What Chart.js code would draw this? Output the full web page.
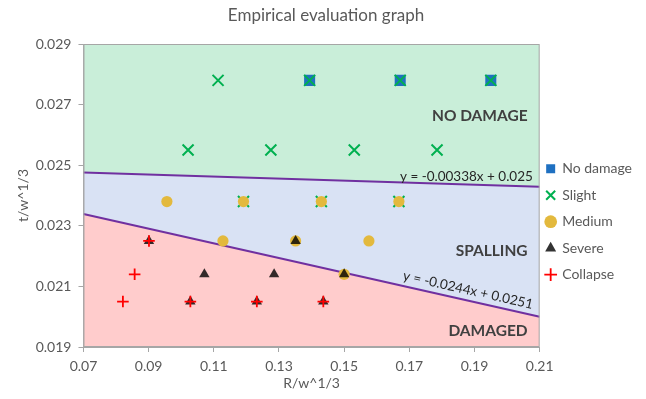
<!DOCTYPE html>
<html>
<head>
<meta charset="utf-8">
<script src="https://cdn.jsdelivr.net/npm/chart.js@4"></script>
<style>
  html, body { margin: 0; padding: 0; background: #fff; }
  #wrap { width: 646px; height: 399px; }
</style>
</head>
<body>
<div id="wrap"><canvas id="chart"></canvas></div>
<script>
// axis ticks
const xTicks = [0.07, 0.09, 0.11, 0.13, 0.15, 0.17, 0.19, 0.21];
const xTickLabels = ['0.07', '0.09', '0.11', '0.13', '0.15', '0.17', '0.19', '0.21'];
const yTicks = [0.019, 0.021, 0.023, 0.025, 0.027, 0.029];
const yTickLabels = ['0.019', '0.021', '0.023', '0.025', '0.027', '0.029'];

// test results [R/w^1/3, t/w^1/3]
const noDamage = [[0.1394, 0.0278], [0.1672, 0.0278], [0.1950, 0.0278]];
const slight = [[0.1113, 0.0278], [0.1394, 0.0278], [0.1672, 0.0278], [0.1950, 0.0278],
  [0.1021, 0.0255], [0.1275, 0.0255], [0.1531, 0.0255], [0.1785, 0.0255],
  [0.1191, 0.0238], [0.1430, 0.0238], [0.1668, 0.0238]];
const medium = [[0.0956, 0.0238], [0.1191, 0.0238], [0.1430, 0.0238], [0.1668, 0.0238],
  [0.1128, 0.0225], [0.1351, 0.0225], [0.1576, 0.0225], [0.1500, 0.0214]];
const severe = [[0.0901, 0.0225], [0.1351, 0.0225], [0.1071, 0.0214], [0.1285, 0.0214],
  [0.1500, 0.0214], [0.1028, 0.0205], [0.1232, 0.0205], [0.1436, 0.0205]];
const collapse = [[0.0821, 0.0205], [0.0857, 0.0214], [0.0901, 0.0225], [0.1028, 0.0205],
  [0.1232, 0.0205], [0.1436, 0.0205]];

// boundary lines (ends at x = 0.07 and x = 0.21)
const upperLine = [[0.07, 0.02476], [0.21, 0.02429]];
const lowerLine = [[0.07, 0.02339], [0.21, 0.02000]];

const toXY = arr => arr.map(p => ({x: p[0], y: p[1]}));
const FONT = 'Lato, "Open Sans", sans-serif';
const GREY = '#595959';

// text drawn on the plot, placed in data units
const notes = [
  {text: 'NO DAMAGE', x: 0.2063, y: 0.02662, bold: true, size: 15.5, align: 'right'},
  {text: 'SPALLING', x: 0.2063, y: 0.02218, bold: true, size: 15.5, align: 'right'},
  {text: 'DAMAGED', x: 0.2063, y: 0.01953, bold: true, size: 15.5, align: 'right'},
  {text: 'y = -0.00338x + 0.025', x: 0.2079, y: 0.02463, size: 13.5, align: 'right'},
  {text: 'y = -0.0244x + 0.0251', x: 0.1880, y: 0.02088, size: 13.5, align: 'center', along: lowerLine}
];

const notesPlugin = {
  id: 'notes',
  afterLayout(chart) {
    // legend sits a little closer to the plot than Chart.js places it
    chart.legend.left -= 6;
    chart.legend.right -= 6;
  },
  afterDatasetsDraw(chart) {
    const {ctx, chartArea: a, scales: {x, y}} = chart;
    ctx.save();
    ctx.strokeStyle = '#A6A6A6';
    ctx.lineWidth = 1;
    ctx.strokeRect(a.left + 0.5, a.top + 0.5, a.right - a.left - 1, a.bottom - a.top - 1);
    notes.forEach(n => {
      ctx.save();
      ctx.font = (n.bold ? 'bold ' : '') + n.size + 'px ' + FONT;
      ctx.fillStyle = n.bold ? '#404040' : '#262626';
      ctx.textAlign = n.align;
      ctx.textBaseline = 'middle';
      ctx.translate(x.getPixelForValue(n.x), y.getPixelForValue(n.y));
      if (n.along) {
        const dx = x.getPixelForValue(n.along[1][0]) - x.getPixelForValue(n.along[0][0]);
        const dy = y.getPixelForValue(n.along[1][1]) - y.getPixelForValue(n.along[0][1]);
        ctx.rotate(Math.atan2(dy, dx));
      }
      ctx.fillText(n.text, 0, 0);
      ctx.restore();
    });
    ctx.restore();
  }
};

const tickFont = {family: FONT, size: 14};
const axisTitleFont = {family: FONT, size: 14, lineHeight: 1};

new Chart(document.getElementById('chart'), {
  type: 'scatter',
  data: {
    datasets: [
      {label: 'No damage', data: toXY(noDamage), pointStyle: 'rect', pointRadius: 7.8,
        backgroundColor: '#1F70C1', borderColor: '#1F70C1', borderWidth: 0, order: 5},
      {label: 'Slight', data: toXY(slight), pointStyle: 'crossRot', pointRadius: 7.8,
        backgroundColor: '#00B050', borderColor: '#00B050', borderWidth: 2, order: 4},
      {label: 'Medium', data: toXY(medium), pointStyle: 'circle', pointRadius: 5.6,
        backgroundColor: '#E3B93D', borderColor: '#E3B93D', borderWidth: 0, order: 3},
      {label: 'Severe', data: toXY(severe), pointStyle: 'triangle', pointRadius: 6,
        backgroundColor: 'rgba(0,0,0,0.8)', borderColor: 'rgba(0,0,0,0.8)', borderWidth: 0, order: 2},
      {label: 'Collapse', data: toXY(collapse), pointStyle: 'cross', pointRadius: 5.8,
        backgroundColor: '#FF0000', borderColor: '#FF0000', borderWidth: 1.8, order: 1},
      {type: 'line', label: 'upper', data: toXY(upperLine), showLine: true, pointRadius: 0,
        borderColor: '#7030A0', borderWidth: 2, fill: 'end', backgroundColor: '#C9EED9', order: 10},
      {type: 'line', label: 'lower', data: toXY(lowerLine), showLine: true, pointRadius: 0,
        borderColor: '#7030A0', borderWidth: 2, fill: 5, backgroundColor: '#D9E2F4', order: 11},
      {type: 'line', label: 'lowerFill', data: toXY(lowerLine), showLine: true, pointRadius: 0,
        borderWidth: 0, borderColor: 'rgba(0,0,0,0)', fill: 'start', backgroundColor: '#FFCCCC', order: 12}
    ]
  },
  options: {
    responsive: true,
    maintainAspectRatio: false,
    animation: false,
    layout: {padding: {left: 4, right: -2, top: 0, bottom: 9}},
    plugins: {
      filler: {drawTime: 'beforeDatasetsDraw'},
      tooltip: {enabled: false},
      title: {
        display: true,
        text: 'Empirical evaluation graph',
        color: GREY,
        font: {family: FONT, size: 17, weight: 'normal'},
        padding: {top: 5, bottom: 18.6}
      },
      legend: {
        position: 'right',
        align: 'center',
        title: {display: true, text: ' ', padding: {top: 29, bottom: 10}},
        labels: {
          usePointStyle: true,
          boxWidth: 9,
          boxHeight: 9,
          padding: 12.5,
          color: GREY,
          font: {family: FONT, size: 14},
          filter: item => item.datasetIndex < 5,
          sort: (a, b) => a.datasetIndex - b.datasetIndex
        }
      }
    },
    scales: {
      x: {
        type: 'linear',
        min: 0.07,
        max: 0.21,
        afterBuildTicks: s => { s.ticks = xTicks.map(v => ({value: v})); },
        ticks: {callback: (v, i) => xTickLabels[i], color: GREY, font: tickFont, padding: 6.3, maxRotation: 0},
        grid: {drawOnChartArea: false, drawTicks: true, tickLength: 5, color: '#A6A6A6'},
        border: {color: '#A6A6A6'},
        title: {display: true, text: 'R/w^1/3', color: GREY, font: axisTitleFont, padding: {top: -5.4, bottom: 0}}
      },
      y: {
        type: 'linear',
        min: 0.019,
        max: 0.029,
        afterBuildTicks: s => { s.ticks = yTicks.map(v => ({value: v})); },
        ticks: {callback: (v, i) => yTickLabels[i], color: GREY, font: tickFont, padding: 7},
        grid: {drawOnChartArea: false, drawTicks: true, tickLength: 5, color: '#A6A6A6'},
        border: {color: '#A6A6A6'},
        title: {display: true, text: 't/w^1/3', color: GREY, font: axisTitleFont, padding: {top: 12.4, bottom: -1.7}}
      }
    }
  },
  plugins: [notesPlugin]
});
</script>
</body>
</html>
